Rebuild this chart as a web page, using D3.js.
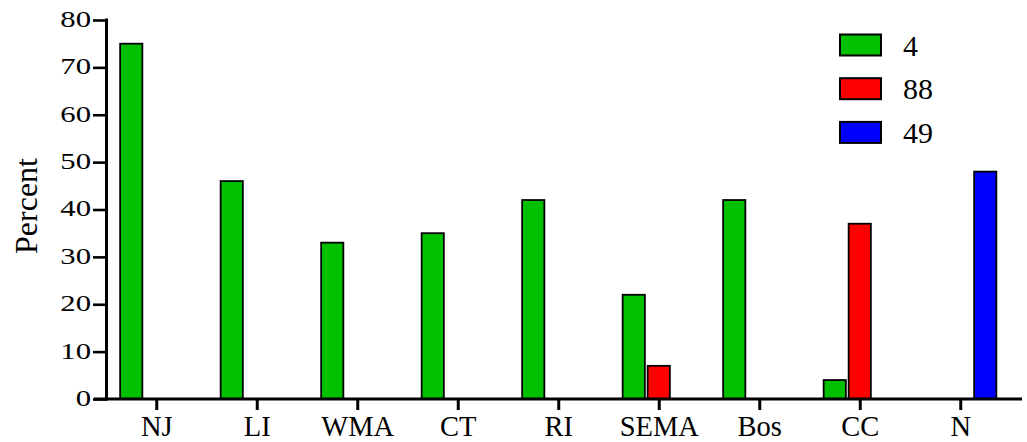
<!DOCTYPE html>
<html>
<head>
<meta charset="utf-8">
<script src="https://cdn.jsdelivr.net/npm/d3@7"></script>
<style>
  html, body { margin: 0; padding: 0; background: #fff; }
  svg { display: block; }
  svg text { font-family: 'Liberation Serif', 'Times New Roman', serif; }
</style>
</head>
<body>
<svg id="chart" width="1027" height="442"></svg>
<script>
// Regions along the x axis
const categories = ["NJ", "LI", "WMA", "CT", "RI", "SEMA", "Bos", "CC", "N"];
// Series names (legend labels) and fill colours
const seriesNames = ["4", "88", "49"];
const seriesColors = ["#00c000", "#ff0000", "#0000ff"];
// Percent per region for each series (null = no bar)
const series4  = [75, 46, 33, 35, 42, 22, 42, 4, null];
const series88 = [null, null, null, null, null, 7, null, 37, null];
const series49 = [null, null, null, null, null, null, null, null, 48];
const yTicks = [0, 10, 20, 30, 40, 50, 60, 70, 80];

const seriesValues = [series4, series88, series49];
const serif = "'Liberation Serif', 'Times New Roman', serif";

const svg = d3.select("#chart");

const axisX = 106.5, axisY = 399, topY = 20;

const x0 = d3.scaleBand().domain(categories).range([axisX, 1011]).padding(0);
const groupWidth = 75;
const x1 = d3.scaleBand().domain(seriesNames).range([0, groupWidth]).padding(0);
const y = d3.scaleLinear().domain([0, 80]).range([axisY, topY]);

// Bars
const bars = [];
categories.forEach((c, i) => {
  seriesNames.forEach((s, j) => {
    const v = seriesValues[j][i];
    if (v != null) bars.push({ c, s, v, color: seriesColors[j] });
  });
});

const sw = 1.8;
svg.append("g").selectAll("rect")
  .data(bars)
  .join("rect")
  .attr("x", d => x0(d.c) + x0.bandwidth() / 2 - groupWidth / 2 + x1(d.s) + sw / 2)
  .attr("width", x1.bandwidth() - 1 - sw)
  .attr("y", d => y(d.v))
  .attr("height", d => y(0) - y(d.v))
  .attr("fill", d => d.color)
  .attr("stroke", "#000")
  .attr("stroke-width", sw);

// Y axis
const yAxis = svg.append("g")
  .attr("transform", `translate(${axisX},0)`)
  .call(d3.axisLeft(y).tickValues(yTicks).tickSize(13.5).tickSizeOuter(0).tickPadding(0));
yAxis.attr("font-family", null);
yAxis.select(".domain").attr("stroke-width", 3).attr("d", `M0,${axisY + 1.5}V${topY - 1.5}`);
yAxis.selectAll(".tick line").attr("stroke-width", 2.6);
const sx = 1.28;
yAxis.selectAll(".tick text")
  .style("font-family", serif)
  .attr("font-size", 24)
  .attr("fill", "#000")
  .attr("x", -15.5 / sx)
  .attr("dy", "0.27em")
  .attr("transform", `scale(${sx},1)`);

// X axis
const xAxis = svg.append("g")
  .attr("transform", `translate(0,${axisY})`)
  .call(d3.axisBottom(x0).tickSize(11).tickSizeOuter(0).tickPadding(0));
xAxis.attr("font-family", null);
xAxis.select(".domain").attr("stroke-width", 3).attr("d", `M94,0H1022`);
xAxis.selectAll(".tick line").attr("stroke-width", 3);
xAxis.selectAll(".tick text")
  .style("font-family", serif)
  .attr("font-size", 28.5)
  .attr("fill", "#000")
  .attr("y", 36.8)
  .attr("dy", 0);

// Y axis title
svg.append("text")
  .attr("transform", "translate(37,206) rotate(-90)")
  .attr("text-anchor", "middle")
  .style("font-family", serif)
  .attr("font-size", 32)
  .attr("fill", "#000")
  .text("Percent");

// Legend
const legend = svg.append("g");
seriesNames.forEach((s, j) => {
  const yy = 34.5 + j * 43.7;
  legend.append("rect")
    .attr("x", 840).attr("y", yy)
    .attr("width", 41).attr("height", 21)
    .attr("fill", seriesColors[j])
    .attr("stroke", "#000").attr("stroke-width", 2);
  legend.append("text")
    .attr("x", 903).attr("y", yy + 21)
    .style("font-family", serif)
    .attr("font-size", 30)
    .attr("fill", "#000")
    .text(s);
});
</script>
</body>
</html>
